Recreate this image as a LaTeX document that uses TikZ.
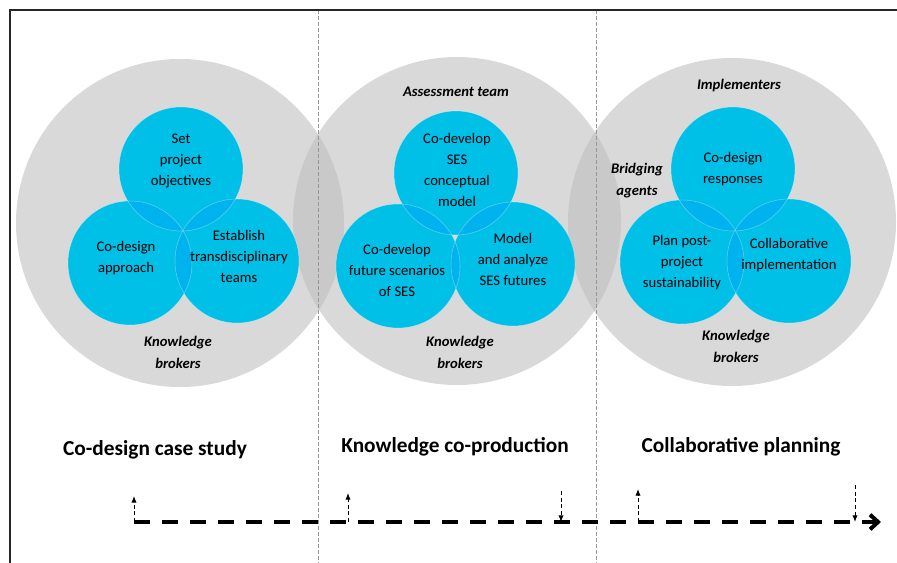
\documentclass[tikz,border=0pt]{standalone}
\usepackage{fontspec}
\setmainfont{Carlito}
\usetikzlibrary{arrows.meta}

\definecolor{ringgray}{HTML}{D9D9D9}
\definecolor{ringover}{HTML}{C9C9C9}
\definecolor{taskblue}{HTML}{00C0E8}
\definecolor{taskover}{HTML}{00B3EE}
\def\ringr{123pt}
\def\taskr{46.5pt}
% shade the lens where two circles meet
\newcommand{\lens}[4]{\begin{scope}\clip (#1.center) circle (#3); \fill[#4] (#2.center) circle (#3);\end{scope}}

\begin{document}
\begin{tikzpicture}[x=0.75pt, y=-0.75pt, font=\fontsize{11pt}{15.75pt}\selectfont]
    \tikzstyle{ring}=[circle, fill=ringgray, minimum size=246pt, inner sep=0pt]
    \tikzstyle{task}=[circle, fill=taskblue, minimum size=93pt, inner sep=0pt]
    \tikzstyle{task text}=[align=center, inner sep=0pt]
    \tikzstyle{actor}=[align=center, inner sep=0pt, font=\fontsize{11pt}{16.5pt}\selectfont\bfseries\itshape]
    \tikzstyle{phase}=[inner sep=0pt, font=\fontsize{16pt}{19pt}\selectfont\bfseries]
    \tikzstyle{divider}=[draw=black!40, dash pattern=on 3pt off 1.5pt, line width=0.6pt]
    \tikzstyle{timeline}=[line width=3pt, dash pattern=on 12pt off 9pt, -{Straight Barb[length=6pt,width=11pt]}]
    \tikzstyle{milestone}=[line width=0.75pt, dash pattern=on 3pt off 2pt, -{Latex[length=5pt,width=4pt]}]

    \useasboundingbox (0,0) rectangle (897,563);

    % Draw the three actor rings
    \node[ring] (ring1) at (180,223) {};
    \node[ring] (ring2) at (457,221) {};
    \node[ring] (ring3) at (732,222) {};
    \lens{ring1}{ring2}{\ringr}{ringover}
    \lens{ring2}{ring3}{\ringr}{ringover}

    % Phase dividers and frame
    \draw[divider] (318,10) -- (318,563);
    \draw[divider] (596,10) -- (596,563);
    \draw[line width=1.2pt, black!85] (10,563) -- (10,10) -- (897,10);

    % Co-design case study
    \node[task] (objectives) at (181,169) {};
    \node[task] (approach) at (130,263) {};
    \node[task] (teams) at (237,261) {};
    \lens{objectives}{approach}{\taskr}{taskover}
    \lens{objectives}{teams}{\taskr}{taskover}
    \lens{approach}{teams}{\taskr}{taskover}

    % Knowledge co-production
    \node[task] (concept) at (456,173) {};
    \node[task] (scenarios) at (398,266) {};
    \node[task] (futures) at (513,264) {};
    \lens{concept}{scenarios}{\taskr}{taskover}
    \lens{concept}{futures}{\taskr}{taskover}
    \lens{scenarios}{futures}{\taskr}{taskover}

    % Collaborative planning
    \node[task] (responses) at (733,169) {};
    \node[task] (sustain) at (682,262) {};
    \node[task] (implement) at (789,261) {};
    \lens{responses}{sustain}{\taskr}{taskover}
    \lens{responses}{implement}{\taskr}{taskover}
    \lens{sustain}{implement}{\taskr}{taskover}

    \foreach \c in {objectives,approach,teams,concept,scenarios,futures,responses,sustain,implement}
        \draw[white, opacity=0.35, line width=0.4pt] (\c.center) circle (\taskr);

    % Task texts
    \node[task text] (objectives-txt) at (181,161) {Set\\project\\objectives};
    \node[task text] (approach-txt) at (126,258) {Co-design\\approach};
    \node[task text] (teams-txt) at (239,256) {Establish\\transdisciplinary\\teams};
    \node[task text] (concept-txt) at (457,170) {Co-develop\\SES\\conceptual\\model};
    \node[task text] (scenarios-txt) at (397,270) {Co-develop\\future scenarios\\of SES};
    \node[task text] (futures-txt) at (513,259) {Model\\and analyze\\SES futures};
    \node[task text] (responses-txt) at (733,169) {Co-design\\responses};
    \node[task text] (sustain-txt) at (682,263) {Plan post-\\project\\sustainability};
    \node[task text] (implement-txt) at (789,255) {Collaborative\\implementation};

    % Actors
    \node[actor] (assess) at (456,92) {Assessment team};
    \node[actor] (implementers) at (739,86) {Implementers};
    \node[actor] (bridging) at (637,181) {Bridging\\agents};
    \node[actor] (brokers1) at (178,352) {Knowledge\\brokers};
    \node[actor] (brokers2) at (460,352) {Knowledge\\brokers};
    \node[actor] (brokers3) at (736,346) {Knowledge\\brokers};

    % Phase titles
    \node[phase] (phase1) at (155,450) {Co-design case study};
    \node[phase] (phase2) at (455,447) {Knowledge co-production};
    \node[phase] (phase3) at (741,447) {Collaborative planning};

    % Timeline
    \coordinate (tl-start) at (134,522);
    \coordinate (tl-end) at (881,522);
    \draw[timeline] (tl-start) -- (tl-end);

    \coordinate (m1) at (134,522);
    \coordinate (m1-top) at (134,496);
    \coordinate (m2) at (348,522);
    \coordinate (m2-top) at (348,493);
    \coordinate (m3) at (561,522);
    \coordinate (m3-top) at (561,491);
    \coordinate (m4) at (638,522);
    \coordinate (m4-top) at (638,489);
    \coordinate (m5) at (855,522);
    \coordinate (m5-top) at (855,485);

    \draw[milestone] (m1) -- (m1-top);
    \draw[milestone] (m2) -- (m2-top);
    \draw[milestone] (m3-top) -- (m3);
    \draw[milestone] (m4) -- (m4-top);
    \draw[milestone] (m5-top) -- (m5);

\end{tikzpicture}
\end{document}
